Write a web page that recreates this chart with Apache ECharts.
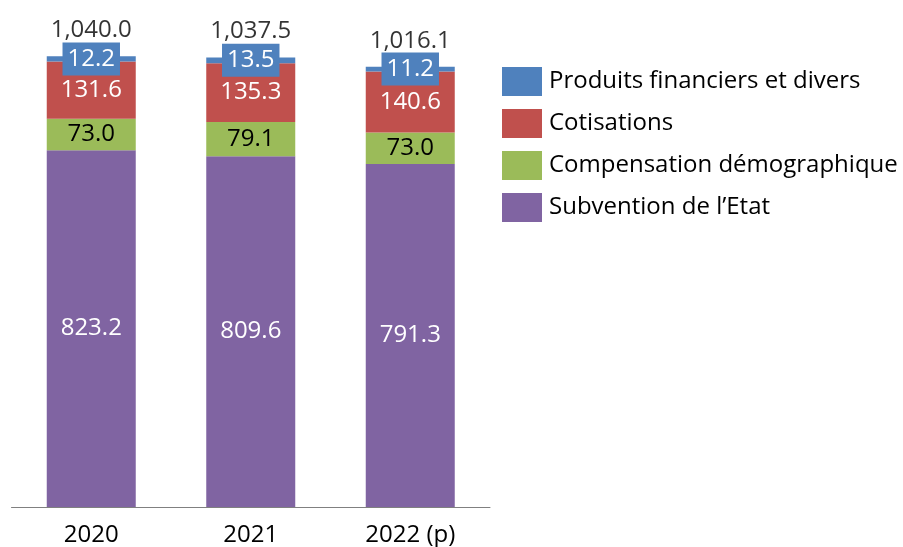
<!DOCTYPE html>
<html>
<head>
<meta charset="utf-8">
<style>
  html, body { margin: 0; padding: 0; background: #fff; }
  #chart { width: 903px; height: 547px; }
</style>
<script src="https://cdn.jsdelivr.net/npm/echarts@6/dist/echarts.min.js"></script>
</head>
<body>
<div id="chart"></div>
<script>
const years = ['2020', '2021', '2022 (p)']
const subvention = [823.2, 809.6, 791.3]
const compensation = [73.0, 79.1, 73.0]
const cotisations = [131.6, 135.3, 140.6]
const produits = [12.2, 13.5, 11.2]
const totals = [1040.0, 1037.5, 1016.1]

const FONT = '"Open Sans", sans-serif'
const SIZE = 24
const fmt1 = v => Number(v).toLocaleString('en-US', { minimumFractionDigits: 1, maximumFractionDigits: 1 })

function barSeries(name, data, color, labelColor, extraLabel) {
  return {
    name,
    type: 'bar',
    stack: 'total',
    data,
    barWidth: 89,
    itemStyle: { color },
    label: Object.assign({
      show: true,
      position: 'inside',
      color: labelColor,
      fontSize: SIZE,
      fontFamily: FONT,
      formatter: p => fmt1(p.value),
    }, extraLabel || {}),
  }
}

const chart = echarts.init(document.getElementById('chart'), null, { renderer: 'canvas' })
chart.setOption({
  animation: false,
  grid: { left: 11.5, right: 413, top: 0, bottom: 40, containLabel: false },
  legend: {
    orient: 'vertical',
    left: 502,
    top: 67,
    padding: 0,
    itemWidth: 40,
    itemHeight: 29,
    itemGap: 13,
    icon: 'rect',
    textStyle: { color: '#000', fontSize: SIZE, fontFamily: FONT, padding: [0, 0, 0, 2] },
    data: ['Produits financiers et divers', 'Cotisations', 'Compensation démographique', 'Subvention de l’Etat'],
  },
  xAxis: {
    type: 'category',
    data: years,
    axisLine: { lineStyle: { color: '#808080', width: 1 } },
    axisTick: { show: false },
    axisLabel: { color: '#000', fontSize: SIZE, fontFamily: FONT, margin: 16 },
  },
  yAxis: {
    type: 'value',
    min: 0,
    max: 1170,
    show: false,
    splitLine: { show: false },
  },
  series: [
    barSeries('Subvention de l’Etat', subvention, '#8064A2', '#fff'),
    barSeries('Compensation démographique', compensation, '#9BBB59', '#000'),
    barSeries('Cotisations', cotisations, '#C0504D', '#fff'),
    barSeries('Produits financiers et divers', produits, '#4F81BD', '#fff', {
      backgroundColor: '#4F81BD',
      lineHeight: 28,
      padding: [3, 5, 2, 5],
    }),
    {
      name: 'Total',
      type: 'scatter',
      data: totals,
      symbolSize: 0,
      silent: true,
      z: 5,
      label: {
        show: true,
        position: 'top',
        distance: 14,
        color: '#000',
        fontSize: SIZE,
        fontFamily: FONT,
        formatter: p => fmt1(p.value),
      },
    },
  ],
})
</script>
</body>
</html>
